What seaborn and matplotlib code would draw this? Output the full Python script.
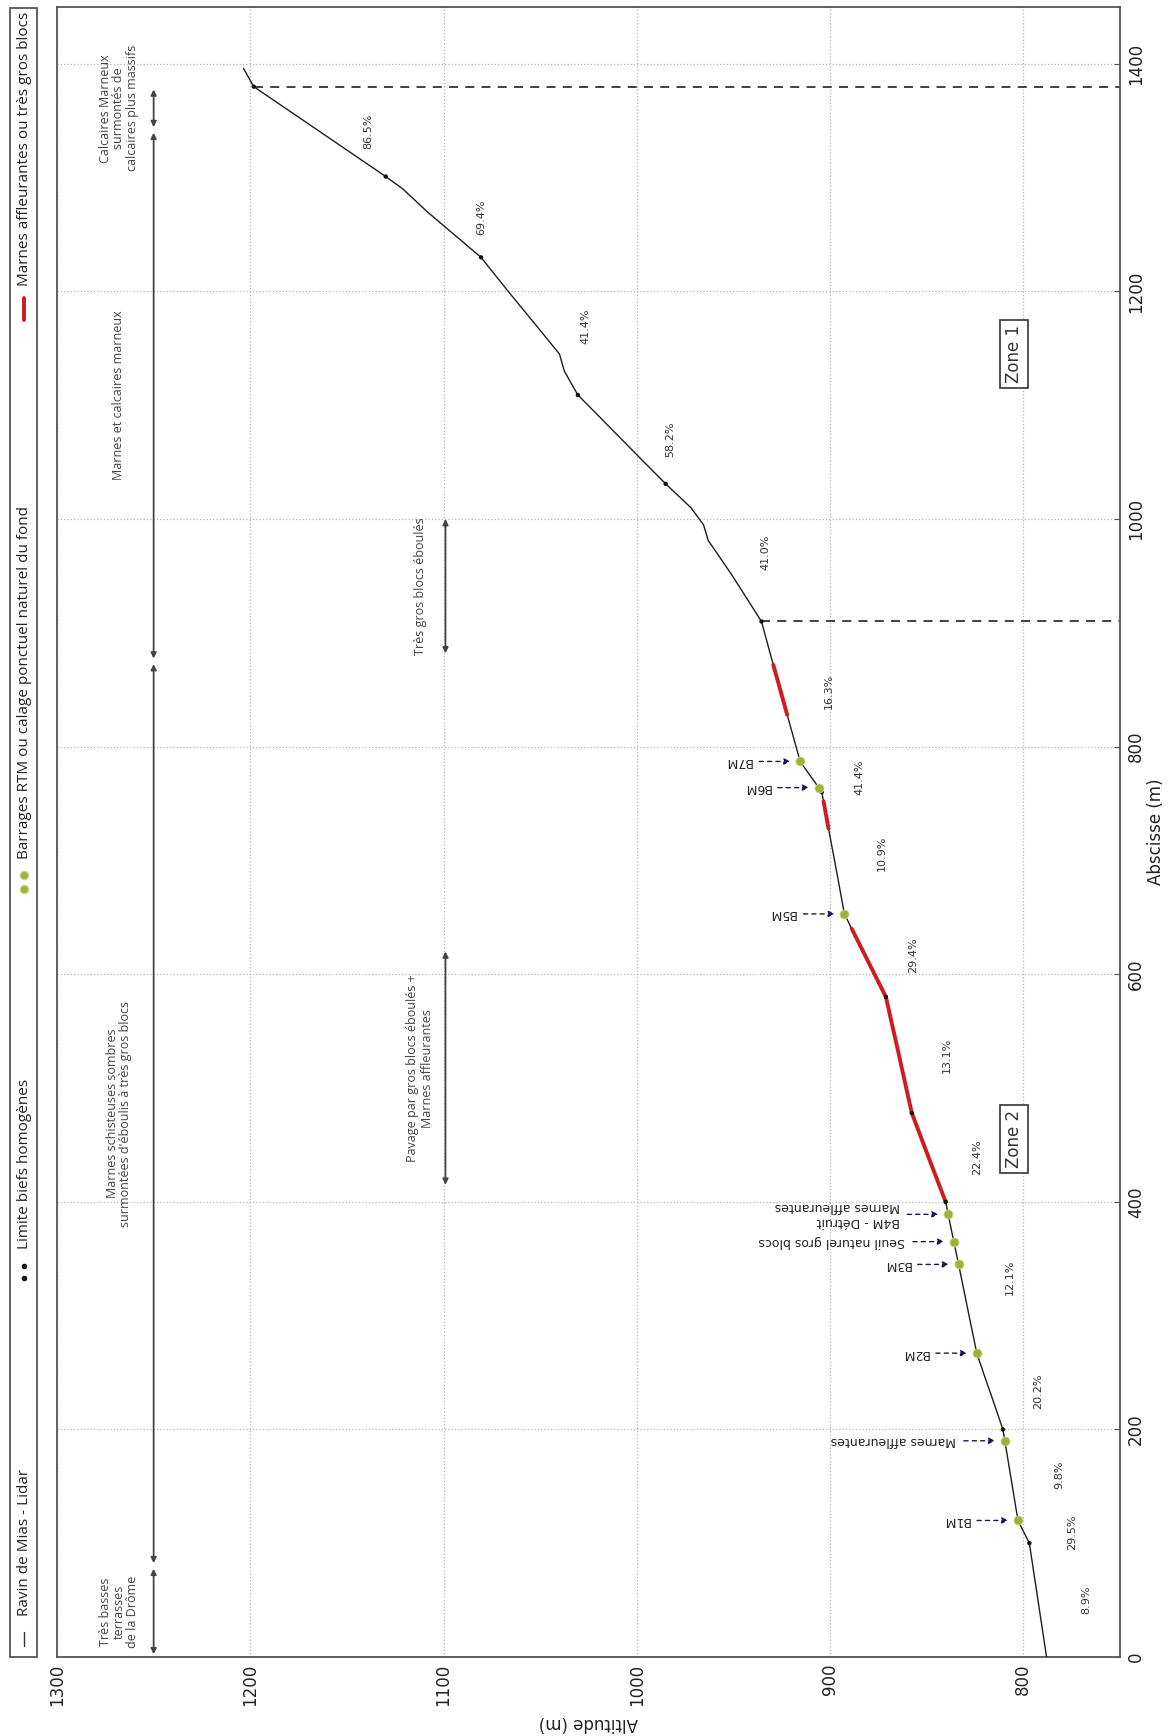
import numpy as np
import pandas as pd
import matplotlib
matplotlib.use("Agg")
import matplotlib.pyplot as plt
from matplotlib.patches import Rectangle
from matplotlib.lines import Line2D
import seaborn as sns

# ---- longitudinal profile of the ravine (Lidar) ----
abscisse = [0, 100, 120, 150, 190, 200, 225, 245, 267, 300, 345, 365, 389, 400,
            430, 455, 478, 500, 520, 540, 560, 580, 600, 620, 640, 653, 680, 700,
            728, 752, 760, 764, 787, 800, 828, 850, 872, 895, 910, 930, 950, 970,
            981, 995, 1010, 1031, 1050, 1070, 1090, 1109, 1130, 1145, 1170, 1200,
            1230, 1250, 1270, 1290, 1301, 1320, 1340, 1360, 1380, 1396]
altitude = [788.0, 796.9, 802.8, 805.7, 809.6, 810.6, 815.6, 819.7, 824.1, 828.1,
            833.5, 836.0, 838.9, 840.2, 847.0, 852.6, 857.7, 860.6, 863.2, 865.8,
            868.5, 871.1, 877.0, 882.9, 888.8, 892.6, 895.5, 897.7, 900.8, 903.4,
            904.3, 905.9, 915.5, 917.6, 922.2, 925.8, 929.4, 933.1, 935.5, 943.0,
            950.5, 958.5, 963.0, 965.5, 972.0, 985.1, 996.2, 1007.8, 1019.4, 1030.5,
            1037.5, 1040.0, 1052.0, 1066.5, 1080.6, 1094.5, 1108.4, 1121.0, 1129.9,
            1146.3, 1163.6, 1180.9, 1198.2, 1203.5]

# limits of homogeneous reaches
limite_abs = [100, 120, 200, 267, 400, 478, 580, 653, 760, 787, 910, 1031, 1109,
              1230, 1301, 1380]
limite_alt = [796.9, 802.8, 810.6, 824.1, 840.2, 857.7, 871.1, 892.6, 904.3, 915.5,
              935.5, 985.1, 1030.5, 1080.6, 1129.9, 1198.2]

# mean slope of each reach
pentes = ["8.9%", "29.5%", "9.8%", "20.2%", "12.1%", "22.4%", "13.1%", "29.4%",
          "10.9%", "41.4%", "16.3%", "41.0%", "58.2%", "41.4%", "69.4%", "86.5%"]

# RTM check dams and natural bed controls
barrage_abs = [120, 190, 267, 345, 365, 389, 653, 764, 787]
barrage_alt = [802.8, 809.6, 824.1, 833.5, 836.0, 838.9, 892.6, 905.9, 915.5]
barrage_noms = ["B1M", "Marnes affleurantes", "B2M", "B3M",
                "Seuil naturel gros blocs", "B4M - Détruit\nMarnes affleurantes",
                "B5M", "B6M", "B7M"]

# reaches with outcropping marls or very large blocks
marnes_debut = [400, 728, 828]
marnes_fin = [640, 752, 872]

# geological units
geol_debut = [0, 80, 875, 1342]
geol_fin = [80, 875, 1342, 1380]
geol_noms = ["Très basses\nterrasses\nde la Drôme",
             "Marnes schisteuses sombres\nsurmontées d'éboulis à très gros blocs",
             "Marnes et calcaires marneux",
             "Calcaires Marneux\nsurmontés de\ncalcaires plus massifs"]

# bed observations
obs_debut = [415, 882]
obs_fin = [620, 1000]
obs_noms = ["Pavage par gros blocs éboulés +\nMarnes affleurantes",
            "Très gros blocs éboulés"]

# zones
zone_noms = ["Zone 1", "Zone 2"]
zone_abs = [1145, 455]
zone_bornes = [910, 1380]

legende = ["Ravin de Mias - Lidar", "Limite biefs homogènes",
           "Barrages RTM ou calage ponctuel naturel du fond",
           "Marnes affleurantes ou très gros blocs"]

# ------------------------------------------------------------------
sns.set_theme(style="white")
plt.rcParams["font.family"] = ["DejaVu Sans"]

W, H = 1169, 1736
fig = plt.figure(figsize=(W / 100, H / 100), dpi=100, facecolor="white")


def fx(x):
    return x / W


def fy(y):
    return 1 - y / H


ax = fig.add_axes([fx(57), fy(1657), (1120 - 57) / W, (1657 - 7) / H])

profil = pd.DataFrame({"abscisse": abscisse, "altitude": altitude})

sns.lineplot(data=profil, x="altitude", y="abscisse", sort=False, estimator=None,
             color="#1e1e1e", lw=1.0, ax=ax, legend=False, zorder=3)

for d, f in zip(marnes_debut, marnes_fin):
    seg = profil[(profil.abscisse >= d) & (profil.abscisse <= f)]
    sns.lineplot(data=seg, x="altitude", y="abscisse", sort=False, estimator=None,
                 color="#d01c1f", lw=2.8, ax=ax, legend=False, zorder=4)

sns.scatterplot(x=limite_alt, y=limite_abs, color="#111111", s=10,
                edgecolor="none", ax=ax, zorder=6, legend=False)
sns.scatterplot(x=barrage_alt, y=barrage_abs, color="#9db23b", s=42,
                edgecolor="#c9d88a", linewidth=0.6, ax=ax, zorder=7, legend=False)

# dashed zone limits
for b in zone_bornes:
    a_b = limite_alt[limite_abs.index(b)]
    ax.plot([a_b, 750], [b, b], ls=(0, (5, 4)), color="#333333", lw=1.3, zorder=2)

# slope labels at mid-reach
bornes = [0] + limite_abs
for i, p in enumerate(pentes):
    mid = (bornes[i] + bornes[i + 1]) / 2
    alt_mid = np.interp(mid, abscisse, altitude)
    ax.text(alt_mid - 25, mid, p, rotation=90, ha="center", va="center",
            fontsize=8, color="#333333")

# dam annotations
for a, z, nom in zip(barrage_abs, barrage_alt, barrage_noms):
    ax.annotate(nom, xy=(z, a), xytext=(z + 25, a), rotation=180,
                rotation_mode="anchor", ha="left", va="center", fontsize=9,
                color="#222222",
                arrowprops=dict(arrowstyle="-|>", linestyle=(0, (3, 3)),
                                color="#15155a", lw=1.0, shrinkA=3, shrinkB=7,
                                mutation_scale=9))

# geological units
for d, f, nom in zip(geol_debut, geol_fin, geol_noms):
    ax.annotate("", xy=(1250, d), xytext=(1250, f),
                arrowprops=dict(arrowstyle="<|-|>", color="#444444", lw=1.3,
                                shrinkA=2, shrinkB=2, mutation_scale=8))
    ax.text(1268, (d + f) / 2, nom, rotation=90, ha="center", va="center",
            fontsize=9, color="#444444", family=["Open Sans", "DejaVu Sans"],
            multialignment="center", linespacing=1.05)

for d, f, nom in zip(obs_debut, obs_fin, obs_noms):
    ax.annotate("", xy=(1099, d), xytext=(1099, f),
                arrowprops=dict(arrowstyle="<|-|>", color="#444444", lw=1.3,
                                shrinkA=0, shrinkB=0, mutation_scale=8))
    ax.text(1112, (d + f) / 2, nom, rotation=90, ha="center", va="center",
            fontsize=9, color="#444444", family=["Open Sans", "DejaVu Sans"],
            multialignment="center")

for nom, a in zip(zone_noms, zone_abs):
    ax.text(805, a, nom, rotation=90, ha="center", va="center", fontsize=12,
            color="#333333",
            bbox=dict(boxstyle="square,pad=0.3", fc="white", ec="#333333", lw=1.2))

# axes
ax.set_xlim(1300, 750)
ax.set_ylim(0, 1450)
xt = [1300, 1200, 1100, 1000, 900, 800]
ax.set_xticks(xt)
ax.set_xticklabels([str(v) for v in xt], rotation=90, fontsize=12, color="#222222")
yt = list(range(0, 1401, 200))
ax.yaxis.tick_right()
ax.set_yticks(yt)
ax.set_yticklabels([str(v) for v in yt], rotation=90, va="center", fontsize=12,
                   color="#222222")
ax.tick_params(axis="both", direction="in", length=4, width=0.8, colors="#555555",
               labelcolor="#222222", pad=5)
ax.grid(True, color="#b5b5b5", ls=":", lw=0.9)
for s in ax.spines.values():
    s.set_color("#555555")
    s.set_linewidth(1.3)

ax.set_xlabel("Altitude (m)", rotation=180, fontsize=12, color="#222222")
ax.xaxis.set_label_coords(0.5, -(1723 - 1657) / 1650)
ax.xaxis.label.set_va("center")
ax.yaxis.set_label_position("right")
ax.set_ylabel("Abscisse (m)", rotation=90, fontsize=12, color="#222222")
ax.yaxis.set_label_coords((1156 - 57) / 1063, 0.5)
ax.yaxis.label.set_va("center")

# ---- legend box along the left side, entries running upwards ----
fig.patches.append(Rectangle((fx(10), fy(1657)), 27 / W, (1657 - 8) / H,
                             transform=fig.transFigure, fill=False,
                             ec="#555555", lw=1.3))
xc = 24
renderer = fig.canvas.get_renderer()
textes = []
for lab in legende:
    t = fig.text(fx(xc), 0.5, lab, rotation=90, rotation_mode="anchor",
                 ha="left", va="center", fontsize=11, color="#222222",
                 family=["Open Sans", "DejaVu Sans"])
    textes.append(t)
longs = [t.get_window_extent(renderer).height for t in textes]
hl, pad = 22, 12
bas, haut = 1650, 12
total = sum(hl + pad + L for L in longs)
gap = (bas - haut - total) / (len(legende) - 1)
y = bas
for i, (t, L) in enumerate(zip(textes, longs)):
    y0, y1 = y, y - hl
    if i == 0:
        fig.lines.append(Line2D([fx(xc)] * 2, [fy(y0 - 4), fy(y1 + 4)],
                                transform=fig.transFigure, color="#333333", lw=1.0))
    elif i == 1:
        fig.lines.append(Line2D([fx(xc)] * 2, [fy(y0 - 5), fy(y1 + 5)],
                                transform=fig.transFigure, ls="none", marker="o",
                                ms=3, color="#111111"))
    elif i == 2:
        fig.lines.append(Line2D([fx(xc)] * 2, [fy(y0 - 4), fy(y1 + 4)],
                                transform=fig.transFigure, ls="none", marker="o",
                                ms=6, mfc="#9db23b", mec="#c9d88a"))
    else:
        fig.lines.append(Line2D([fx(xc)] * 2, [fy(y0), fy(y1)],
                                transform=fig.transFigure, color="#d01c1f", lw=2.8))
    t.set_position((fx(xc), fy(y1 - pad)))
    y = y1 - pad - L - gap

fig.savefig("out.png", dpi=100, facecolor="white")
